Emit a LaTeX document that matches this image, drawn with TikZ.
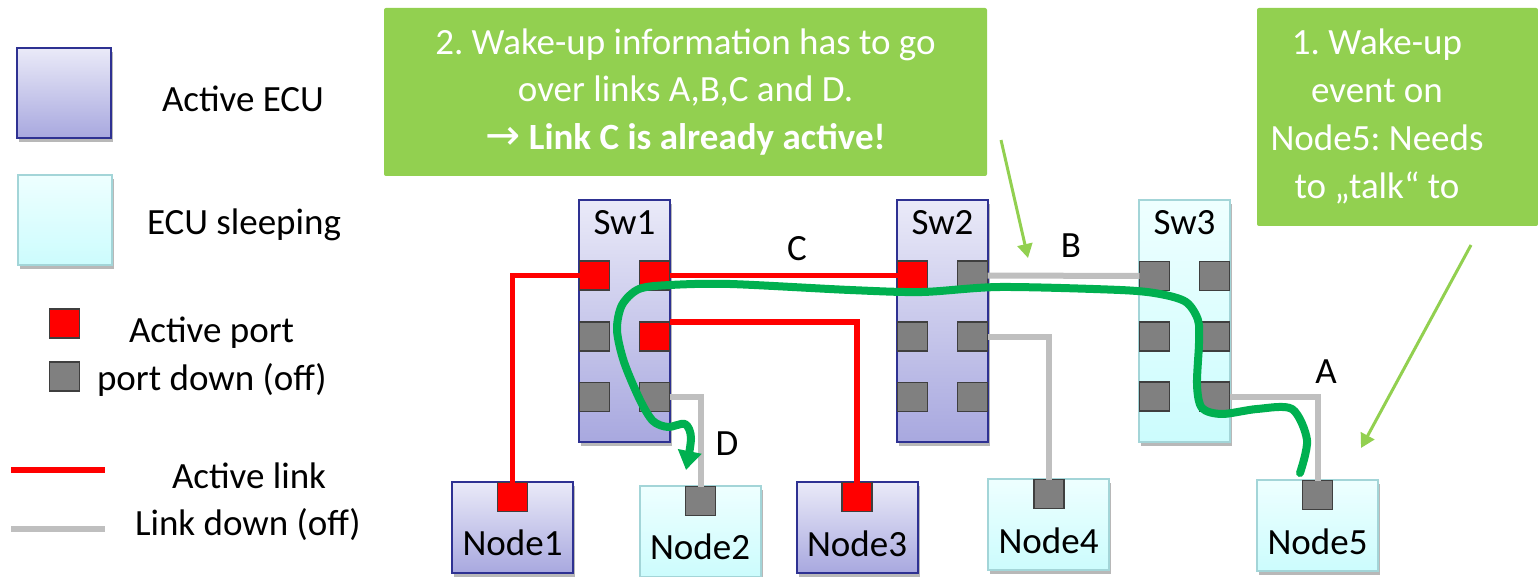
\documentclass[tikz,border=0pt]{standalone}
\usepackage{fontspec}
\setmainfont{Carlito}
\newfontfamily\arrowfont{DejaVu Sans}
\frenchspacing
\usetikzlibrary{arrows.meta,shadows}
\definecolor{ecuborder}{HTML}{2E3192}
\definecolor{acttop}{HTML}{EAEAF8}
\definecolor{actbot}{HTML}{A8A8DF}
\definecolor{sleeptop}{HTML}{EEFFFF}
\definecolor{sleepbot}{HTML}{CCFCFD}
\definecolor{sleepborder}{HTML}{A3D5D8}
\definecolor{portgray}{HTML}{808080}
\definecolor{portborder}{HTML}{3F3F3F}
\definecolor{linkred}{HTML}{FF0000}
\definecolor{linkgray}{HTML}{BFBFBF}
\definecolor{callgreen}{HTML}{92D050}
\definecolor{routegreen}{HTML}{00B050}
\begin{document}
\begin{tikzpicture}[x=1pt,y=-1pt,
  every node/.style={inner sep=0pt, outer sep=0pt},
  txt/.style={font=\fontsize{37}{46}\selectfont\frenchspacing, text=black},
  calltxt/.style={font=\fontsize{37}{46}\selectfont\frenchspacing, text=white},
  boxshadow/.style={drop shadow={shadow xshift=2pt, shadow yshift=-4pt, fill=black, opacity=0.28}},
  activebox/.style={draw=ecuborder, line width=2pt, top color=acttop, bottom color=actbot, boxshadow},
  sleepbox/.style={draw=sleepborder, line width=2pt, top color=sleeptop, bottom color=sleepbot, boxshadow},
  swbox/.style={minimum width=91pt, minimum height=242pt},
  ndbox/.style={minimum width=121pt, minimum height=91pt},
  portbox/.style={draw=portborder, line width=1.8pt, minimum width=30pt, minimum height=29pt},
  redport/.style={portbox, fill=linkred},
  grayport/.style={portbox, fill=portgray},
  redlink/.style={draw=linkred, line width=5.5pt},
  graylink/.style={draw=linkgray, line width=6pt},
  callout/.style={fill=callgreen, rounded corners=2pt},
  callarrow/.style={draw=callgreen, line width=3pt, -{Triangle[width=15pt,length=14pt]}},
  route/.style={draw=routegreen, line width=8pt, line cap=round, line join=round}
]
\useasboundingbox (0,0) rectangle (1538,577);

% ---------- Legend ----------
\node[activebox, minimum width=94pt, minimum height=90pt] (legact) at (64,93) {};
\node[txt, anchor=base west] (legactt) at (162,112) {Active ECU};
\node[sleepbox, minimum width=94pt, minimum height=90pt] (legsleep) at (65,220) {};
\node[txt, anchor=base west] (legsleept) at (147,235) {ECU sleeping};
\node[redport] (legrp) at (64.5,323.5) {};
\node[txt, anchor=base west] (legrpt) at (129,342) {Active port};
\node[grayport] (leggp) at (64.5,376.5) {};
\node[txt, anchor=base west] (leggpt) at (97,390) {port down (off)};
\coordinate (lr1) at (11,470);
\coordinate (lr2) at (105,470);
\draw[redlink] (lr1) -- (lr2);
\node[txt, anchor=base west] (legrl) at (172,488) {Active link};
\coordinate (lg1) at (11,529);
\coordinate (lg2) at (105,529);
\draw[graylink] (lg1) -- (lg2);
\node[txt, anchor=base west] (leggl) at (135,535) {Link down (off)};

% ---------- Callouts ----------
\node[callout, minimum width=603pt, minimum height=168pt] (cb2) at (685.5,92) {};
\node[calltxt, anchor=base] (cb2a) at (685.5,55) {2. Wake-up information has to go};
\node[calltxt, anchor=base] (cb2b) at (685.5,102) {over links A,B,C and D.};
\node[calltxt, anchor=base] (cb2c) at (685.5,150) {{\arrowfont\fontsize{42}{46}\selectfont →} \textbf{Link C is already active!}};

\node[callout, minimum width=281pt, minimum height=218pt] (cb1) at (1397.5,117) {};
\node[calltxt, anchor=base] (cb1a) at (1377,55) {1. Wake-up};
\node[calltxt, anchor=base] (cb1b) at (1377,103) {event on};
\node[calltxt, anchor=base] (cb1c) at (1377,151) {Node5: Needs};
\node[calltxt, anchor=base] (cb1d) at (1377,199) {to „talk“ to};

% ---------- Switches ----------
\node[activebox, swbox] (sw1) at (624.5,321) {};
\node[txt, anchor=base] (sw1l) at (624.5,235) {Sw1};
\node[activebox, swbox] (sw2) at (942.5,321) {};
\node[txt, anchor=base] (sw2l) at (942.5,235) {Sw2};
\node[sleepbox, swbox] (sw3) at (1184.5,321) {};
\node[txt, anchor=base] (sw3l) at (1184.5,235) {Sw3};

% Sw1 ports
\node[redport]  (s1r1l) at (594.5,275.5) {};
\node[redport]  (s1r1r) at (654.5,275.5) {};
\node[grayport] (s1r2l) at (594.5,336.5) {};
\node[redport]  (s1r2r) at (654.5,336.5) {};
\node[grayport] (s1r3l) at (594.5,397) {};
\node[grayport] (s1r3r) at (654.5,397) {};
% Sw2 ports
\node[redport]  (s2r1l) at (912.5,275.5) {};
\node[grayport] (s2r1r) at (972.5,275.5) {};
\node[grayport] (s2r2l) at (912.5,336.5) {};
\node[grayport] (s2r2r) at (972.5,336.5) {};
\node[grayport] (s2r3l) at (912.5,397) {};
\node[grayport] (s2r3r) at (972.5,397) {};
% Sw3 ports
\node[grayport] (s3r1l) at (1154.5,276) {};
\node[grayport] (s3r1r) at (1214.5,276) {};
\node[grayport] (s3r2l) at (1154.5,336.5) {};
\node[grayport] (s3r2r) at (1214.5,336.5) {};
\node[grayport] (s3r3l) at (1154.5,396.5) {};
\node[grayport] (s3r3r) at (1214.5,396.5) {};

% ---------- End nodes ----------
\node[activebox, ndbox] (n1) at (512.5,527.5) {};
\node[redport] (n1p) at (512.5,497) {};
\node[txt, anchor=base] (n1l) at (512.5,555) {Node1};
\node[sleepbox, ndbox] (n2) at (700,531.5) {};
\node[grayport] (n2p) at (700.5,501) {};
\node[txt, anchor=base] (n2l) at (700,559) {Node2};
\node[activebox, ndbox] (n3) at (857,527.5) {};
\node[redport] (n3p) at (857,497) {};
\node[txt, anchor=base] (n3l) at (857,556) {Node3};
\node[sleepbox, ndbox] (n4) at (1048.5,524) {};
\node[grayport] (n4p) at (1049,494) {};
\node[txt, anchor=base] (n4l) at (1048.5,553) {Node4};
\node[sleepbox, ndbox] (n5) at (1317.5,525) {};
\node[grayport] (n5p) at (1317.5,495) {};
\node[txt, anchor=base] (n5l) at (1317.5,554) {Node5};

% ---------- Links ----------
\draw[redlink] (n1p.north) |- (s1r1l.west);
\draw[redlink] (s1r1r.east) -- (s2r1l.west);
\draw[redlink] (s1r2r.north east) -| (n3p.north);
\draw[graylink] (s1r3r.east) -| (n2p.north);
\draw[graylink] (s2r1r.east) -- (s3r1l.west);
\draw[graylink] (s2r2r.east) -| (n4p.north);
\draw[graylink] (s3r3r.east) -| (n5p.north);

\node[txt, anchor=base] (labC) at (797,260) {C};
\node[txt, anchor=base] (labD) at (727,455) {D};
\node[txt, anchor=base] (labB) at (1071,257.5) {B};
\node[txt, anchor=base] (labA) at (1326,383.5) {A};

% ---------- Wake-up route ----------
\draw[route, -{Triangle[width=23pt,length=19pt]}] plot[smooth, tension=0.5] coordinates {
  (1300,473) (1307,440) (1292,409) (1257,409) (1222,414) (1202,408) (1197,385)
  (1199,343) (1198,320) (1186,302) (1160,294) (1120,290) (1000,287) (922,292)
  (850,290) (730,284) (670,285) (639,289) (622,305) (617,330) (624,362)
  (640,400) (653,421) (668,427) (685,424) (691,438) (686,470)};

% ---------- Callout pointers ----------
\coordinate (a2s) at (1001,140);
\coordinate (a2e) at (1028,258);
\draw[callarrow] (a2s) -- (a2e);
\coordinate (a1s) at (1471,245);
\coordinate (a1e) at (1361,448);
\draw[callarrow] (a1s) -- (a1e);
\end{tikzpicture}
\end{document}
